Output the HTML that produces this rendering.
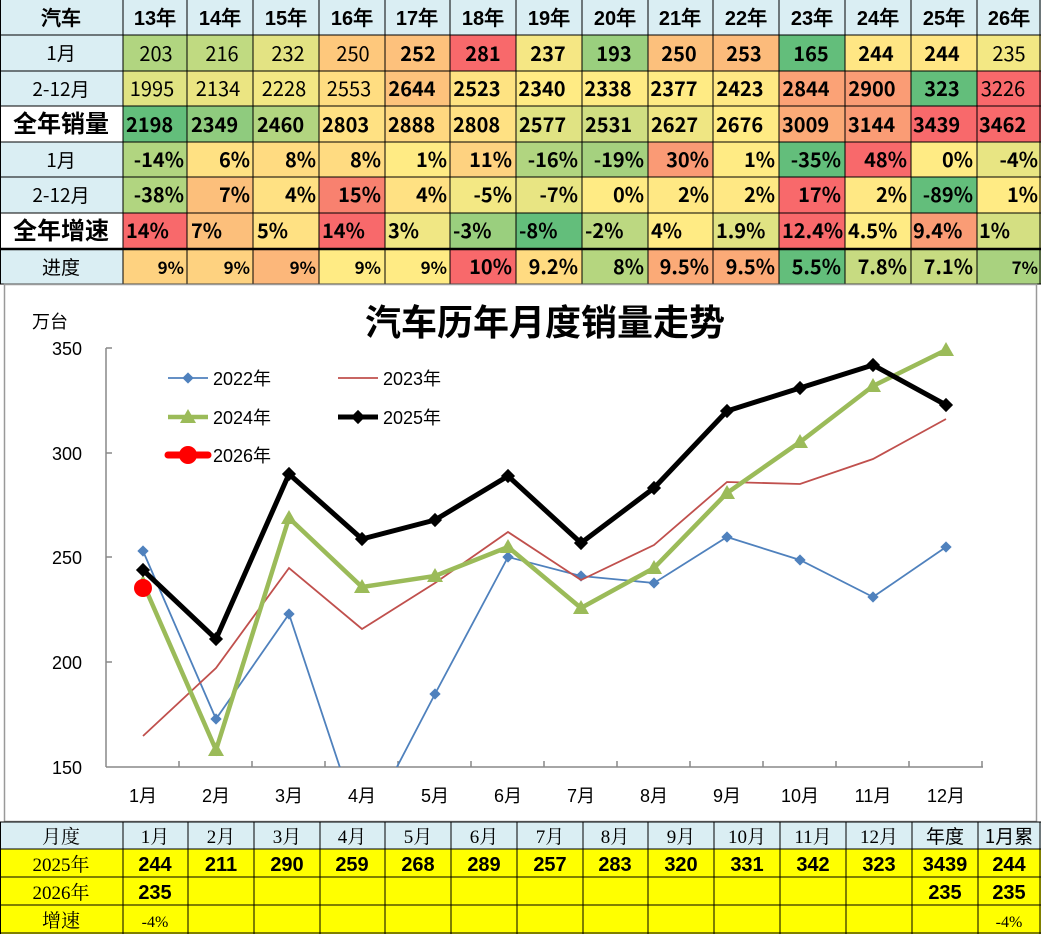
<!DOCTYPE html>
<html><head><meta charset="utf-8"><style>
html,body{margin:0;padding:0;background:#fff;}
svg{display:block;}
.h{font-family:"Liberation Sans","WenQuanYi Zen Hei",sans-serif;font-weight:bold;font-size:20px;text-anchor:middle;fill:#000;}
.n{font-family:"WenQuanYi Zen Hei","Noto Sans CJK SC",sans-serif;font-size:20px;fill:#000;}
.b{font-weight:bold;}
.lab{font-family:"Noto Sans CJK SC","WenQuanYi Zen Hei",sans-serif;font-size:19px;text-anchor:middle;fill:#000;}
.big{font-family:"Noto Sans CJK SC","WenQuanYi Zen Hei",sans-serif;font-size:24px;font-weight:bold;text-anchor:middle;fill:#000;}
.ax{font-family:"Liberation Sans","Noto Sans CJK SC",sans-serif;font-size:18px;fill:#000;}
.bt{font-family:"Liberation Serif","Noto Serif CJK SC",serif;font-size:19px;text-anchor:middle;fill:#000;}
.bb{font-family:"Liberation Sans","WenQuanYi Zen Hei",sans-serif;font-size:20px;font-weight:bold;text-anchor:middle;fill:#000;}
</style></head><body>
<svg width="1041" height="934" viewBox="0 0 1041 934" xmlns="http://www.w3.org/2000/svg">
<rect x="0" y="0" width="1041" height="35" fill="#DAEEF3"/>
<rect x="0" y="35" width="123" height="71" fill="#DAEEF3"/>
<rect x="0" y="142" width="123" height="71" fill="#DAEEF3"/>
<rect x="0" y="249" width="123" height="35" fill="#DAEEF3"/>
<g>
<rect x="123" y="35" width="64" height="36" fill="#B1D580"/><rect x="187" y="35" width="66" height="36" fill="#C0DA81"/><rect x="253" y="35" width="66" height="36" fill="#E3E383"/><rect x="319" y="35" width="66" height="36" fill="#FEC87C"/><rect x="385" y="35" width="65" height="36" fill="#FDC17C"/><rect x="450" y="35" width="66" height="36" fill="#F8696B"/><rect x="516" y="35" width="66" height="36" fill="#F5E784"/><rect x="582" y="35" width="66" height="36" fill="#9ACF7E"/><rect x="648" y="35" width="65" height="36" fill="#FCC07C"/><rect x="713" y="35" width="66" height="36" fill="#FCBB7B"/><rect x="779" y="35" width="66" height="36" fill="#63BE7B"/><rect x="845" y="35" width="66" height="36" fill="#FFE684"/><rect x="911" y="35" width="66" height="36" fill="#FFE684"/><rect x="977" y="35" width="64" height="36" fill="#F3E884"/>
<rect x="123" y="71" width="64" height="35" fill="#E0E383"/><rect x="187" y="71" width="66" height="35" fill="#EBE582"/><rect x="253" y="71" width="66" height="35" fill="#F3E884"/><rect x="319" y="71" width="66" height="35" fill="#FFDD81"/><rect x="385" y="71" width="65" height="35" fill="#FDC27C"/><rect x="450" y="71" width="66" height="35" fill="#FEE382"/><rect x="516" y="71" width="66" height="35" fill="#FFEB84"/><rect x="582" y="71" width="66" height="35" fill="#FFEB84"/><rect x="648" y="71" width="65" height="35" fill="#FFEB84"/><rect x="713" y="71" width="66" height="35" fill="#FFE884"/><rect x="779" y="71" width="66" height="35" fill="#FBA276"/><rect x="845" y="71" width="66" height="35" fill="#FA9C75"/><rect x="911" y="71" width="66" height="35" fill="#63BE7B"/><rect x="977" y="71" width="64" height="35" fill="#F8696B"/>
<rect x="123" y="106" width="64" height="36" fill="#63BE7B"/><rect x="187" y="106" width="66" height="36" fill="#8FCB7E"/><rect x="253" y="106" width="66" height="36" fill="#B2D580"/><rect x="319" y="106" width="66" height="36" fill="#FFE183"/><rect x="385" y="106" width="65" height="36" fill="#FFD880"/><rect x="450" y="106" width="66" height="36" fill="#FFE183"/><rect x="516" y="106" width="66" height="36" fill="#E0E383"/><rect x="582" y="106" width="66" height="36" fill="#D0DE82"/><rect x="648" y="106" width="65" height="36" fill="#EFE683"/><rect x="713" y="106" width="66" height="36" fill="#FFEB84"/><rect x="779" y="106" width="66" height="36" fill="#FBAA77"/><rect x="845" y="106" width="66" height="36" fill="#FA9C75"/><rect x="911" y="106" width="66" height="36" fill="#F8696B"/><rect x="977" y="106" width="64" height="36" fill="#F8696B"/>
<rect x="123" y="142" width="64" height="35" fill="#B1D580"/><rect x="187" y="142" width="66" height="35" fill="#FFE183"/><rect x="253" y="142" width="66" height="35" fill="#FFDB81"/><rect x="319" y="142" width="66" height="35" fill="#FFDB81"/><rect x="385" y="142" width="65" height="35" fill="#FFEB84"/><rect x="450" y="142" width="66" height="35" fill="#FED280"/><rect x="516" y="142" width="66" height="35" fill="#B1D580"/><rect x="582" y="142" width="66" height="35" fill="#A5D17F"/><rect x="648" y="142" width="65" height="35" fill="#FA9A75"/><rect x="713" y="142" width="66" height="35" fill="#FFEB84"/><rect x="779" y="142" width="66" height="35" fill="#63BE7B"/><rect x="845" y="142" width="66" height="35" fill="#F8696B"/><rect x="911" y="142" width="66" height="35" fill="#FFEB84"/><rect x="977" y="142" width="64" height="35" fill="#E8E583"/>
<rect x="123" y="177" width="64" height="36" fill="#B1D580"/><rect x="187" y="177" width="66" height="36" fill="#FCBF7B"/><rect x="253" y="177" width="66" height="36" fill="#FFE183"/><rect x="319" y="177" width="66" height="36" fill="#F8816F"/><rect x="385" y="177" width="65" height="36" fill="#FFE183"/><rect x="450" y="177" width="66" height="36" fill="#F3E884"/><rect x="516" y="177" width="66" height="36" fill="#E8E583"/><rect x="582" y="177" width="66" height="36" fill="#FFEB84"/><rect x="648" y="177" width="65" height="36" fill="#FFE884"/><rect x="713" y="177" width="66" height="36" fill="#FFE884"/><rect x="779" y="177" width="66" height="36" fill="#F8696B"/><rect x="845" y="177" width="66" height="36" fill="#FFE884"/><rect x="911" y="177" width="66" height="36" fill="#63BE7B"/><rect x="977" y="177" width="64" height="36" fill="#FFEB84"/>
<rect x="123" y="213" width="64" height="36" fill="#F8696B"/><rect x="187" y="213" width="66" height="36" fill="#FCBF7B"/><rect x="253" y="213" width="66" height="36" fill="#FFE183"/><rect x="319" y="213" width="66" height="36" fill="#F8696B"/><rect x="385" y="213" width="65" height="36" fill="#F0E784"/><rect x="450" y="213" width="66" height="36" fill="#9ACF7E"/><rect x="516" y="213" width="66" height="36" fill="#63BE7B"/><rect x="582" y="213" width="66" height="36" fill="#BCD881"/><rect x="648" y="213" width="65" height="36" fill="#FFEB84"/><rect x="713" y="213" width="66" height="36" fill="#E0E383"/><rect x="779" y="213" width="66" height="36" fill="#F8696B"/><rect x="845" y="213" width="66" height="36" fill="#FFEB84"/><rect x="911" y="213" width="66" height="36" fill="#FA9C75"/><rect x="977" y="213" width="64" height="36" fill="#D4DF82"/>
<rect x="123" y="249" width="64" height="35" fill="#FED280"/><rect x="187" y="249" width="66" height="35" fill="#FED280"/><rect x="253" y="249" width="66" height="35" fill="#FCB77A"/><rect x="319" y="249" width="66" height="35" fill="#FFEB84"/><rect x="385" y="249" width="65" height="35" fill="#FFEB84"/><rect x="450" y="249" width="66" height="35" fill="#F8696B"/><rect x="516" y="249" width="66" height="35" fill="#FFDB81"/><rect x="582" y="249" width="66" height="35" fill="#B5D67F"/><rect x="648" y="249" width="65" height="35" fill="#FBAA77"/><rect x="713" y="249" width="66" height="35" fill="#FBAA77"/><rect x="779" y="249" width="66" height="35" fill="#63BE7B"/><rect x="845" y="249" width="66" height="35" fill="#C7DB81"/><rect x="911" y="249" width="66" height="35" fill="#C7DB81"/><rect x="977" y="249" width="64" height="35" fill="#A9D27F"/>
</g>
<g stroke="#000" stroke-width="1">
<line x1="0" y1="35" x2="1041" y2="35"/><line x1="0" y1="71" x2="1041" y2="71"/><line x1="0" y1="106" x2="1041" y2="106"/><line x1="0" y1="142" x2="1041" y2="142"/><line x1="0" y1="177" x2="1041" y2="177"/><line x1="0" y1="213" x2="1041" y2="213"/><line x1="0" y1="284" x2="1041" y2="284"/>
<line x1="123" y1="0" x2="123" y2="284"/><line x1="187" y1="0" x2="187" y2="284"/><line x1="253" y1="0" x2="253" y2="284"/><line x1="319" y1="0" x2="319" y2="284"/><line x1="385" y1="0" x2="385" y2="284"/><line x1="450" y1="0" x2="450" y2="284"/><line x1="516" y1="0" x2="516" y2="284"/><line x1="582" y1="0" x2="582" y2="284"/><line x1="648" y1="0" x2="648" y2="284"/><line x1="713" y1="0" x2="713" y2="284"/><line x1="779" y1="0" x2="779" y2="284"/><line x1="845" y1="0" x2="845" y2="284"/><line x1="911" y1="0" x2="911" y2="284"/><line x1="977" y1="0" x2="977" y2="284"/><line x1="1040" y1="0" x2="1040" y2="284"/><line x1="0.5" y1="0" x2="0.5" y2="284"/>
</g>
<line x1="0" y1="249" x2="1041" y2="249" stroke="#000" stroke-width="2.5"/>
<text class="h" x="61" y="25">汽车</text>
<text class="h" x="155" y="25">13年</text><text class="h" x="220" y="25">14年</text><text class="h" x="286" y="25">15年</text><text class="h" x="352" y="25">16年</text><text class="h" x="417" y="25">17年</text><text class="h" x="483" y="25">18年</text><text class="h" x="549" y="25">19年</text><text class="h" x="615" y="25">20年</text><text class="h" x="680" y="25">21年</text><text class="h" x="746" y="25">22年</text><text class="h" x="812" y="25">23年</text><text class="h" x="878" y="25">24年</text><text class="h" x="944" y="25">25年</text><text class="h" x="1009" y="25">26年</text>
<text class="lab" x="61" y="60">1月</text><text class="lab" x="61" y="96">2-12月</text>
<text class="big" x="61" y="132">全年销量</text>
<text class="lab" x="61" y="167">1月</text><text class="lab" x="61" y="202">2-12月</text>
<text class="big" x="61" y="239">全年增速</text>
<text class="lab" x="61" y="274">进度</text>
<g class="n" text-anchor="middle">
<text x="156" y="61">203</text><text x="222" y="61">216</text><text x="288" y="61">232</text><text x="353" y="61">250</text><text class="b" x="418" y="61">252</text><text class="b" x="483" y="61">281</text><text class="b" x="548" y="61">237</text><text class="b" x="614" y="61">193</text><text class="b" x="679" y="61">250</text><text class="b" x="744" y="61">253</text><text class="b" x="811" y="61">165</text><text class="b" x="876" y="61">244</text><text class="b" x="942" y="61">244</text><text x="1009" y="61">235</text>
<text x="152" y="96">1995</text><text x="218" y="96">2134</text><text x="284" y="96">2228</text><text x="349" y="96">2553</text><text class="b" x="412" y="96">2644</text><text class="b" x="477" y="96">2523</text><text class="b" x="542" y="96">2340</text><text class="b" x="608" y="96">2338</text><text class="b" x="674" y="96">2377</text><text class="b" x="740" y="96">2423</text><text class="b" x="806" y="96">2844</text><text class="b" x="872" y="96">2900</text><text class="b" x="942" y="96">323</text><text x="1003" y="96">3226</text>
</g>
<g class="n b" text-anchor="start">
<text x="126" y="132">2198</text><text x="191" y="132">2349</text><text x="257" y="132">2460</text><text x="322" y="132">2803</text><text x="388" y="132">2888</text><text x="453" y="132">2808</text><text x="519" y="132">2577</text><text x="585" y="132">2531</text><text x="651" y="132">2627</text><text x="716" y="132">2676</text><text x="782" y="132">3009</text><text x="848" y="132">3144</text><text x="913" y="132">3439</text><text x="979" y="132">3462</text>
<text x="126" y="238">14%</text><text x="191" y="238">7%</text><text x="257" y="238">5%</text><text x="322" y="238">14%</text><text x="388" y="238">3%</text><text x="453" y="238">-3%</text><text x="519" y="238">-8%</text><text x="585" y="238">-2%</text><text x="651" y="238">4%</text><text x="716" y="238">1.9%</text><text x="782" y="238">12.4%</text><text x="848" y="238">4.5%</text><text x="913" y="238">9.4%</text><text x="979" y="238">1%</text>
</g>
<g class="n b" text-anchor="end">
<text x="184" y="167">-14%</text><text x="250" y="167">6%</text><text x="316" y="167">8%</text><text x="381" y="167">8%</text><text x="447" y="167">1%</text><text x="512" y="167">11%</text><text x="578" y="167">-16%</text><text x="644" y="167">-19%</text><text x="709" y="167">30%</text><text x="775" y="167">1%</text><text x="841" y="167">-35%</text><text x="907" y="167">48%</text><text x="973" y="167">0%</text><text x="1038" y="167">-4%</text>
<text x="184" y="202">-38%</text><text x="250" y="202">7%</text><text x="316" y="202">4%</text><text x="381" y="202">15%</text><text x="447" y="202">4%</text><text x="512" y="202">-5%</text><text x="578" y="202">-7%</text><text x="644" y="202">0%</text><text x="709" y="202">2%</text><text x="775" y="202">2%</text><text x="841" y="202">17%</text><text x="907" y="202">2%</text><text x="973" y="202">-89%</text><text x="1038" y="202">1%</text>
<text x="184" y="274" font-size="17">9%</text><text x="250" y="274" font-size="17">9%</text><text x="316" y="274" font-size="17">9%</text><text x="381" y="274" font-size="17">9%</text><text x="447" y="274" font-size="17">9%</text><text x="512" y="274">10%</text><text x="578" y="274">9.2%</text><text x="644" y="274">8%</text><text x="709" y="274">9.5%</text><text x="775" y="274">9.5%</text><text x="841" y="274">5.5%</text><text x="907" y="274">7.8%</text><text x="973" y="274">7.1%</text><text x="1038" y="274" font-size="17">7%</text>
</g>

<rect x="4.5" y="284.5" width="1032" height="537" fill="#fff" stroke="#999" stroke-width="1.5"/>
<text x="545" y="335" font-family="Noto Sans CJK SC, WenQuanYi Zen Hei, sans-serif" font-size="36" font-weight="bold" text-anchor="middle">汽车历年月度销量走势</text>
<text class="ax" x="32" y="328" font-family="Noto Sans CJK SC, sans-serif">万台</text>
<g stroke="#888" stroke-width="1.5" fill="none">
<line x1="106" y1="348" x2="106" y2="767"/><line x1="106" y1="767" x2="983" y2="767"/>
<line x1="106" y1="348" x2="112" y2="348"/><line x1="106" y1="453" x2="112" y2="453"/><line x1="106" y1="557" x2="112" y2="557"/><line x1="106" y1="662" x2="112" y2="662"/>
<line x1="179" y1="767" x2="179" y2="761"/><line x1="252" y1="767" x2="252" y2="761"/><line x1="325" y1="767" x2="325" y2="761"/><line x1="398" y1="767" x2="398" y2="761"/><line x1="471" y1="767" x2="471" y2="761"/><line x1="544" y1="767" x2="544" y2="761"/><line x1="617" y1="767" x2="617" y2="761"/><line x1="690" y1="767" x2="690" y2="761"/><line x1="763" y1="767" x2="763" y2="761"/><line x1="836" y1="767" x2="836" y2="761"/><line x1="909" y1="767" x2="909" y2="761"/><line x1="982" y1="767" x2="982" y2="761"/>
</g>
<g class="ax" text-anchor="end">
<text x="82" y="355">350</text><text x="82" y="460">300</text><text x="82" y="564">250</text><text x="82" y="669">200</text><text x="82" y="774">150</text>
</g>
<g class="ax" text-anchor="middle">
<text x="143" y="802">1月</text><text x="216" y="802">2月</text><text x="289" y="802">3月</text><text x="362" y="802">4月</text><text x="435" y="802">5月</text><text x="508" y="802">6月</text><text x="581" y="802">7月</text><text x="654" y="802">8月</text><text x="727" y="802">9月</text><text x="800" y="802">10月</text><text x="873" y="802">11月</text><text x="946" y="802">12月</text>
</g>
<defs><clipPath id="pc"><rect x="106" y="330" width="900" height="437"/></clipPath></defs>
<g clip-path="url(#pc)">
<polyline fill="none" stroke="#4F81BD" stroke-width="1.8" points="143,551 216,719 289,614 362,834 435,694 508,557 581,576 654,583 727,537 800,560 873,597 946,547"/>
<g fill="#4F81BD">
<rect x="139" y="547" width="8" height="8" transform="rotate(45 143 551)"/><rect x="212" y="715" width="8" height="8" transform="rotate(45 216 719)"/><rect x="285" y="610" width="8" height="8" transform="rotate(45 289 614)"/><rect x="431" y="690" width="8" height="8" transform="rotate(45 435 694)"/><rect x="504" y="553" width="8" height="8" transform="rotate(45 508 557)"/><rect x="577" y="572" width="8" height="8" transform="rotate(45 581 576)"/><rect x="650" y="579" width="8" height="8" transform="rotate(45 654 583)"/><rect x="723" y="533" width="8" height="8" transform="rotate(45 727 537)"/><rect x="796" y="556" width="8" height="8" transform="rotate(45 800 560)"/><rect x="869" y="593" width="8" height="8" transform="rotate(45 873 597)"/><rect x="942" y="543" width="8" height="8" transform="rotate(45 946 547)"/>
</g>
<polyline fill="none" stroke="#C0504D" stroke-width="1.8" points="143,736 216,668 289,568 362,629 435,583 508,532 581,580 654,545 727,482 800,484 873,459 946,419"/>
<polyline fill="none" stroke="#9BBB59" stroke-width="4.5" points="143,583 216,750 289,518 362,587 435,576 508,547 581,608 654,568 727,493 800,442 873,386 946,350"/>
<g fill="#9BBB59">
<polygon points="143,575 135,589 151,589"/><polygon points="216,742 208,756 224,756"/><polygon points="289,510 281,524 297,524"/><polygon points="362,579 354,593 370,593"/><polygon points="435,568 427,582 443,582"/><polygon points="508,539 500,553 516,553"/><polygon points="581,600 573,614 589,614"/><polygon points="654,560 646,574 662,574"/><polygon points="727,485 719,499 735,499"/><polygon points="800,434 792,448 808,448"/><polygon points="873,378 865,392 881,392"/><polygon points="946,342 938,356 954,356"/>
</g>
<polyline fill="none" stroke="#000" stroke-width="5" stroke-linejoin="round" points="143,570 216,639 289,474 362,539 435,520 508,476 581,543 654,488 727,411 800,388 873,365 946,405"/>
<g fill="#000">
<rect x="138" y="565" width="10" height="10" transform="rotate(45 143 570)"/><rect x="211" y="634" width="10" height="10" transform="rotate(45 216 639)"/><rect x="284" y="469" width="10" height="10" transform="rotate(45 289 474)"/><rect x="357" y="534" width="10" height="10" transform="rotate(45 362 539)"/><rect x="430" y="515" width="10" height="10" transform="rotate(45 435 520)"/><rect x="503" y="471" width="10" height="10" transform="rotate(45 508 476)"/><rect x="576" y="538" width="10" height="10" transform="rotate(45 581 543)"/><rect x="649" y="483" width="10" height="10" transform="rotate(45 654 488)"/><rect x="722" y="406" width="10" height="10" transform="rotate(45 727 411)"/><rect x="795" y="383" width="10" height="10" transform="rotate(45 800 388)"/><rect x="868" y="360" width="10" height="10" transform="rotate(45 873 365)"/><rect x="941" y="400" width="10" height="10" transform="rotate(45 946 405)"/>
</g>
<circle cx="143" cy="588" r="9" fill="#FF0000"/>
</g>
<line x1="168" y1="378" x2="208" y2="378" stroke="#4F81BD" stroke-width="1.8"/><rect x="184" y="374" width="8" height="8" fill="#4F81BD" transform="rotate(45 188 378)"/>
<text class="ax" x="213" y="385">2022年</text>
<line x1="338" y1="378" x2="378" y2="378" stroke="#C0504D" stroke-width="1.8"/>
<text class="ax" x="383" y="385">2023年</text>
<line x1="168" y1="417" x2="208" y2="417" stroke="#9BBB59" stroke-width="4.5"/><polygon points="188,409 180,423 196,423" fill="#9BBB59"/>
<text class="ax" x="213" y="424">2024年</text>
<line x1="338" y1="417" x2="378" y2="417" stroke="#000" stroke-width="5"/><rect x="353" y="412" width="10" height="10" fill="#000" transform="rotate(45 358 417)"/>
<text class="ax" x="383" y="424">2025年</text>
<line x1="168" y1="455" x2="208" y2="455" stroke="#FF0000" stroke-width="7" stroke-linecap="round"/><circle cx="188" cy="455" r="9" fill="#FF0000"/>
<text class="ax" x="213" y="462">2026年</text>

<rect x="0" y="822" width="1041" height="27" fill="#DAEEF3"/>
<rect x="0" y="849" width="1041" height="85" fill="#FFFF00"/>
<g stroke="#000" stroke-width="1">
<line x1="0" y1="822" x2="1041" y2="822"/><line x1="0" y1="849" x2="1041" y2="849"/><line x1="0" y1="877" x2="1041" y2="877"/><line x1="0" y1="905" x2="1041" y2="905"/><line x1="0" y1="933" x2="1041" y2="933"/>
<line x1="0.5" y1="822" x2="0.5" y2="934"/><line x1="123" y1="822" x2="123" y2="934"/><line x1="188" y1="822" x2="188" y2="934"/><line x1="254" y1="822" x2="254" y2="934"/><line x1="320" y1="822" x2="320" y2="934"/><line x1="385" y1="822" x2="385" y2="934"/><line x1="451" y1="822" x2="451" y2="934"/><line x1="517" y1="822" x2="517" y2="934"/><line x1="583" y1="822" x2="583" y2="934"/><line x1="648" y1="822" x2="648" y2="934"/><line x1="714" y1="822" x2="714" y2="934"/><line x1="780" y1="822" x2="780" y2="934"/><line x1="846" y1="822" x2="846" y2="934"/><line x1="912" y1="822" x2="912" y2="934"/><line x1="978" y1="822" x2="978" y2="934"/><line x1="1040" y1="822" x2="1040" y2="934"/>
</g>
<g class="bt">
<text x="61" y="843">月度</text><text x="155" y="843">1月</text><text x="221" y="843">2月</text><text x="287" y="843">3月</text><text x="352" y="843">4月</text><text x="418" y="843">5月</text><text x="484" y="843">6月</text><text x="550" y="843">7月</text><text x="615" y="843">8月</text><text x="681" y="843">9月</text><text x="747" y="843">10月</text><text x="813" y="843">11月</text><text x="879" y="843">12月</text><text x="945" y="843" font-family="Noto Sans CJK SC, sans-serif">年度</text><text x="1009" y="843" font-family="Noto Sans CJK SC, sans-serif">1月累</text>
<text x="61" y="871">2025年</text><text x="61" y="899">2026年</text><text x="61" y="927">增速</text>
<text x="155" y="927" font-size="16">-4%</text><text x="1009" y="927" font-size="16">-4%</text>
</g>
<g class="bb">
<text x="155" y="871">244</text><text x="221" y="871">211</text><text x="287" y="871">290</text><text x="352" y="871">259</text><text x="418" y="871">268</text><text x="484" y="871">289</text><text x="550" y="871">257</text><text x="615" y="871">283</text><text x="681" y="871">320</text><text x="747" y="871">331</text><text x="813" y="871">342</text><text x="879" y="871">323</text><text x="945" y="871">3439</text><text x="1009" y="871">244</text>
<text x="155" y="899">235</text><text x="945" y="899">235</text><text x="1009" y="899">235</text>
</g>
</svg>
</body></html>
